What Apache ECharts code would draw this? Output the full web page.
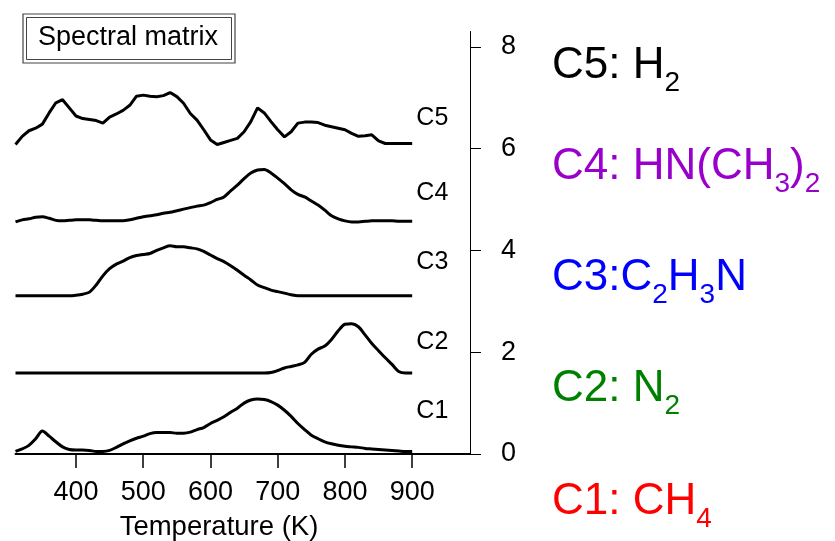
<!DOCTYPE html>
<html>
<head>
<meta charset="utf-8">
<script src="https://cdn.jsdelivr.net/npm/echarts@6/dist/echarts.min.js"></script>
<style>
  html, body { margin: 0; padding: 0; background: #fff; }
  #chart { width: 835px; height: 541px; }
</style>
</head>
<body>
<div id="chart"></div>
<script>
// Temperature grid (K) shared by every component trace
const temperatures = [
  310, 320, 330, 340, 350, 360, 370, 380, 390, 400,
  410, 420, 430, 440, 450, 460, 470, 480, 490, 500,
  510, 520, 530, 540, 550, 560, 570, 580, 590, 600,
  610, 620, 630, 640, 650, 660, 670, 680, 690, 700,
  710, 720, 730, 740, 750, 760, 770, 780, 790, 800,
  810, 820, 830, 840, 850, 860, 870, 880, 890, 900
];

// Spectral-matrix components, already offset vertically for stacking
const c1 = [
  0.05, 0.10, 0.17, 0.30, 0.45, 0.35, 0.24, 0.14, 0.09, 0.08,
  0.08, 0.07, 0.05, 0.05, 0.07, 0.13, 0.20, 0.26, 0.31, 0.35,
  0.40, 0.42, 0.42, 0.42, 0.41, 0.41, 0.43, 0.48, 0.52, 0.60,
  0.66, 0.73, 0.82, 0.90, 1.00, 1.06, 1.08, 1.07, 1.03, 0.96,
  0.86, 0.74, 0.60, 0.48, 0.37, 0.30, 0.24, 0.20, 0.17, 0.15,
  0.14, 0.13, 0.11, 0.10, 0.09, 0.08, 0.07, 0.06, 0.05, 0.05
];
const c2 = [
  1.59, 1.59, 1.59, 1.59, 1.59, 1.59, 1.59, 1.59, 1.59, 1.59,
  1.59, 1.59, 1.59, 1.59, 1.59, 1.59, 1.59, 1.59, 1.59, 1.59,
  1.59, 1.59, 1.59, 1.59, 1.59, 1.59, 1.59, 1.59, 1.59, 1.59,
  1.59, 1.59, 1.59, 1.59, 1.59, 1.59, 1.59, 1.59, 1.60, 1.64,
  1.69, 1.72, 1.75, 1.80, 1.96, 2.06, 2.12, 2.25, 2.42, 2.55,
  2.56, 2.50, 2.34, 2.17, 2.03, 1.89, 1.76, 1.62, 1.59, 1.59
];
const c3 = [
  3.11, 3.11, 3.11, 3.11, 3.11, 3.11, 3.11, 3.11, 3.11, 3.12,
  3.14, 3.18, 3.32, 3.50, 3.64, 3.73, 3.79, 3.86, 3.90, 3.92,
  3.94, 4.00, 4.05, 4.09, 4.07, 4.07, 4.05, 4.03, 3.98, 3.91,
  3.84, 3.78, 3.70, 3.61, 3.51, 3.42, 3.32, 3.27, 3.22, 3.19,
  3.16, 3.13, 3.11, 3.11, 3.11, 3.11, 3.11, 3.11, 3.11, 3.11,
  3.11, 3.11, 3.11, 3.11, 3.11, 3.11, 3.11, 3.11, 3.11, 3.11
];
const c4 = [
  4.56, 4.60, 4.62, 4.65, 4.66, 4.63, 4.59, 4.58, 4.59, 4.60,
  4.60, 4.60, 4.59, 4.58, 4.58, 4.58, 4.58, 4.60, 4.63, 4.66,
  4.68, 4.70, 4.73, 4.75, 4.78, 4.81, 4.84, 4.87, 4.89, 4.94,
  5.00, 5.05, 5.17, 5.28, 5.41, 5.52, 5.58, 5.59, 5.52, 5.42,
  5.31, 5.19, 5.10, 5.05, 4.97, 4.89, 4.79, 4.68, 4.62, 4.58,
  4.56, 4.56, 4.57, 4.58, 4.58, 4.58, 4.58, 4.57, 4.57, 4.57
];
const c5 = [
  6.08, 6.24, 6.35, 6.40, 6.48, 6.70, 6.90, 6.96, 6.80, 6.64,
  6.59, 6.57, 6.55, 6.50, 6.62, 6.68, 6.75, 6.85, 7.03, 7.05,
  7.03, 7.02, 7.04, 7.10, 7.02, 6.89, 6.69, 6.56, 6.37, 6.17,
  6.08, 6.12, 6.16, 6.20, 6.33, 6.53, 6.80, 6.70, 6.53, 6.37,
  6.23, 6.33, 6.50, 6.52, 6.52, 6.51, 6.46, 6.43, 6.40, 6.37,
  6.30, 6.24, 6.25, 6.27, 6.15, 6.10, 6.10, 6.10, 6.10, 6.10
];

// In-plot component tags: name, temperature and height of the tag
const tagNames = ['C1', 'C2', 'C3', 'C4', 'C5'];
const tagTemps = [930, 930, 930, 930, 930];
const tagLevels = [0.84, 2.20, 3.77, 5.13, 6.60];

// Axis ticks
const xTicks = [400, 500, 600, 700, 800, 900];
const yTicks = [0, 2, 4, 6, 8];

// Species assignment text (rich text: m = main, s = subscript)
const speciesText = [
  '{m|C1: CH}{s|4}',
  '{m|C2: N}{s|2}',
  '{m|C3:C}{s|2}{m|H}{s|3}{m|N}',
  '{m|C4: HN(CH}{s|3}{m|)}{s|2}',
  '{m|C5: H}{s|2}'
];
const speciesColors = ['#ff0000', '#008000', '#0000ff', '#9900cc', '#000000'];

const FONT = '"Liberation Sans", Arial, Helvetica, sans-serif';

const chart = echarts.init(document.getElementById('chart'), null, { renderer: 'canvas' });

const traces = [c1, c2, c3, c4, c5];
const lineSeries = traces.map((vals, k) => ({
  type: 'line',
  name: tagNames[k],
  data: temperatures.map((t, i) => [t, vals[i]]),
  showSymbol: false,
  symbol: 'none',
  smooth: k === 4 ? false : 0.3,
  silent: true,
  lineStyle: { color: '#000', width: 3 },
  z: 3
}));

const tagSeries = {
  type: 'scatter',
  data: tagNames.map((n, i) => ({ name: n, value: [tagTemps[i], tagLevels[i]] })),
  symbolSize: 0,
  silent: true,
  itemStyle: { color: '#000', opacity: 1 },
  label: {
    show: true,
    position: 'inside',
    formatter: p => p.name,
    color: '#000',
    opacity: 1,
    textBorderWidth: 0,
    textBorderColor: 'transparent',
    fontSize: 25,
    fontFamily: FONT
  }
};

// Species assignment column on the right, one line per component (C1 at the bottom)
const speciesTops = [480, 367, 256, 145, 44];
const speciesGraphics = speciesText.map((txt, i) => ({
  type: 'text',
  left: 552,
  top: speciesTops[i],
  silent: true,
  style: {
    text: txt,
    fill: speciesColors[i],
    rich: {
      m: { fontSize: 44, lineHeight: 63, fontFamily: FONT, fill: speciesColors[i] },
      s: { fontSize: 28, lineHeight: 28, verticalAlign: 'bottom', fontFamily: FONT, fill: speciesColors[i] }
    }
  }
}));

const option = {
  animation: false,
  backgroundColor: '#ffffff',
  grid: { left: 15.5, right: 365, top: 31.5, bottom: 87, containLabel: false },
  xAxis: {
    type: 'value',
    min: 310,
    max: 986,
    splitLine: { show: false },
    axisLine: { show: true, onZero: false, lineStyle: { color: '#000', width: 2 } },
    axisTick: { show: true, length: 14, customValues: xTicks, lineStyle: { color: '#000', width: 1.5 } },
    axisLabel: { customValues: xTicks, margin: 25, color: '#000', fontSize: 27, fontFamily: FONT }
  },
  yAxis: {
    type: 'value',
    position: 'right',
    min: 0,
    max: 8.3,
    splitLine: { show: false },
    axisLine: { show: true, lineStyle: { color: '#000', width: 1 } },
    axisTick: { show: true, length: 11, customValues: yTicks, lineStyle: { color: '#000', width: 1 } },
    axisLabel: { customValues: yTicks, margin: 31, color: '#000', fontSize: 27, fontFamily: FONT }
  },
  series: lineSeries.concat([tagSeries]),
  graphic: [
    // double-framed caption box
    { type: 'rect', silent: true, shape: { x: 23, y: 14, width: 212, height: 49 },
      style: { fill: 'none', stroke: '#444', lineWidth: 1.2 } },
    { type: 'rect', silent: true, shape: { x: 26.5, y: 17.5, width: 205, height: 42 },
      style: { fill: 'none', stroke: '#444', lineWidth: 1 } },
    { type: 'text', silent: true, x: 38, y: 38,
      style: { text: 'Spectral matrix', fill: '#000', fontSize: 27, fontFamily: FONT,
               align: 'left', verticalAlign: 'middle', textAlign: 'left', textVerticalAlign: 'middle' } },
    // x axis title
    { type: 'text', silent: true, x: 219, y: 527,
      style: { text: 'Temperature (K)', fill: '#000', fontSize: 27.5, fontFamily: FONT,
               align: 'center', verticalAlign: 'middle', textAlign: 'center', textVerticalAlign: 'middle' } }
  ].concat(speciesGraphics)
};

chart.setOption(option);
</script>
</body>
</html>
